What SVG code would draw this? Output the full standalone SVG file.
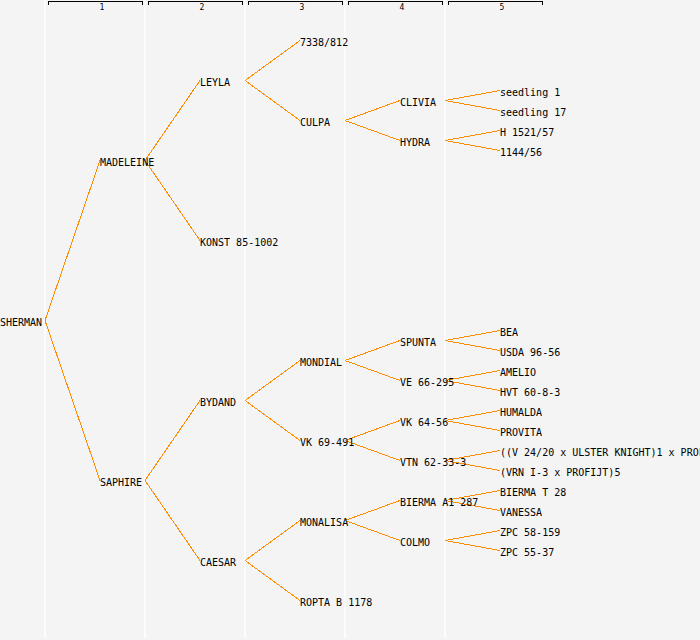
<svg xmlns="http://www.w3.org/2000/svg" width="700" height="640" viewBox="0 0 700 640">
<style>
.bg{fill:#f4f4f4}
.sep{stroke:#ffffff;stroke-width:1.5}
.hdr{fill:none;stroke:#000;stroke-width:1;shape-rendering:crispEdges}
.hl{font-family:"DejaVu Sans Mono",monospace;font-size:8px;fill:#000;text-anchor:middle}
.n text{font-family:"DejaVu Sans Mono","Liberation Mono",monospace;font-size:10px;fill:#000}
#connectors path{fill:none;stroke:#ff8c00;stroke-width:1;shape-rendering:crispEdges}
</style>
<rect class="bg" x="0" y="0" width="700" height="640"/>
<g id="columns">
<line class="sep" x1="45" y1="0" x2="45" y2="638"/>
<line class="sep" x1="145" y1="0" x2="145" y2="638"/>
<line class="sep" x1="245" y1="0" x2="245" y2="638"/>
<line class="sep" x1="345" y1="0" x2="345" y2="638"/>
<line class="sep" x1="445" y1="0" x2="445" y2="638"/>
</g>
<g id="header">
<path class="hdr" d="M48.5,4.5V1.5H142.5V4.5"/>
<path class="hdr" d="M148.5,4.5V1.5H242.5V4.5"/>
<path class="hdr" d="M248.5,4.5V1.5H342.5V4.5"/>
<path class="hdr" d="M348.5,4.5V1.5H442.5V4.5"/>
<path class="hdr" d="M448.5,4.5V1.5H542.5V4.5"/>
<text class="hl" x="102" y="10">1</text>
<text class="hl" x="202" y="10">2</text>
<text class="hl" x="302" y="10">3</text>
<text class="hl" x="402" y="10">4</text>
<text class="hl" x="502" y="10">5</text>
</g>
<g id="connectors">
<path d="M45,320.5L100,160.5M45,320.5L100,480.5"/>
<path d="M145,160.5L200,80.5M145,160.5L200,240.5"/>
<path d="M145,480.5L200,400.5M145,480.5L200,560.5"/>
<path d="M245,80.5L300,40.5M245,80.5L300,120.5"/>
<path d="M245,400.5L300,360.5M245,400.5L300,440.5"/>
<path d="M245,560.5L300,520.5M245,560.5L300,600.5"/>
<path d="M345,120.5L400,100.5M345,120.5L400,140.5"/>
<path d="M345,360.5L400,340.5M345,360.5L400,380.5"/>
<path d="M345,440.5L400,420.5M345,440.5L400,460.5"/>
<path d="M345,520.5L400,500.5M345,520.5L400,540.5"/>
<path d="M445,100.5L500,90.5M445,100.5L500,110.5"/>
<path d="M445,140.5L500,130.5M445,140.5L500,150.5"/>
<path d="M445,340.5L500,330.5M445,340.5L500,350.5"/>
<path d="M445,380.5L500,370.5M445,380.5L500,390.5"/>
<path d="M445,420.5L500,410.5M445,420.5L500,430.5"/>
<path d="M445,460.5L500,450.5M445,460.5L500,470.5"/>
<path d="M445,500.5L500,490.5M445,500.5L500,510.5"/>
<path d="M445,540.5L500,530.5M445,540.5L500,550.5"/>
</g>
<g class="n" id="n-sherman"><text x="0" y="326">SHERMAN</text></g>
<g class="n" id="n-madeleine"><text x="100" y="166">MADELEINE</text></g>
<g class="n" id="n-saphire"><text x="100" y="486">SAPHIRE</text></g>
<g class="n" id="n-leyla"><text x="200" y="86">LEYLA</text></g>
<g class="n" id="n-konst"><text x="200" y="246">KONST 85-1002</text></g>
<g class="n" id="n-bydand"><text x="200" y="406">BYDAND</text></g>
<g class="n" id="n-caesar"><text x="200" y="566">CAESAR</text></g>
<g class="n" id="n-7338"><text x="300" y="46">7338/812</text></g>
<g class="n" id="n-culpa"><text x="300" y="126">CULPA</text></g>
<g class="n" id="n-mondial"><text x="300" y="366">MONDIAL</text></g>
<g class="n" id="n-vk69"><text x="300" y="446">VK 69-491</text></g>
<g class="n" id="n-monalisa"><text x="300" y="526">MONALISA</text></g>
<g class="n" id="n-ropta"><text x="300" y="606">ROPTA B 1178</text></g>
<g class="n" id="n-clivia"><text x="400" y="106">CLIVIA</text></g>
<g class="n" id="n-hydra"><text x="400" y="146">HYDRA</text></g>
<g class="n" id="n-spunta"><text x="400" y="346">SPUNTA</text></g>
<g class="n" id="n-ve66"><text x="400" y="386">VE 66-295</text></g>
<g class="n" id="n-vk64"><text x="400" y="426">VK 64-56</text></g>
<g class="n" id="n-vtn"><text x="400" y="466">VTN 62-33-3</text></g>
<g class="n" id="n-biermaa1"><text x="400" y="506">BIERMA A1 287</text></g>
<g class="n" id="n-colmo"><text x="400" y="546">COLMO</text></g>
<g class="n" id="n-seedling1"><text x="500" y="96">seedling 1</text></g>
<g class="n" id="n-seedling17"><text x="500" y="116">seedling 17</text></g>
<g class="n" id="n-h1521"><text x="500" y="136">H 1521/57</text></g>
<g class="n" id="n-1144"><text x="500" y="156">1144/56</text></g>
<g class="n" id="n-bea"><text x="500" y="336">BEA</text></g>
<g class="n" id="n-usda"><text x="500" y="356">USDA 96-56</text></g>
<g class="n" id="n-amelio"><text x="500" y="376">AMELIO</text></g>
<g class="n" id="n-hvt"><text x="500" y="396">HVT 60-8-3</text></g>
<g class="n" id="n-humalda"><text x="500" y="416">HUMALDA</text></g>
<g class="n" id="n-provita"><text x="500" y="436">PROVITA</text></g>
<g class="n" id="n-v2420"><text x="500" y="456">((V 24/20 x ULSTER KNIGHT)1 x PROFIJT)</text></g>
<g class="n" id="n-vrn"><text x="500" y="476">(VRN I-3 x PROFIJT)5</text></g>
<g class="n" id="n-biermat28"><text x="500" y="496">BIERMA T 28</text></g>
<g class="n" id="n-vanessa"><text x="500" y="516">VANESSA</text></g>
<g class="n" id="n-zpc58"><text x="500" y="536">ZPC 58-159</text></g>
<g class="n" id="n-zpc55"><text x="500" y="556">ZPC 55-37</text></g>
</svg>
